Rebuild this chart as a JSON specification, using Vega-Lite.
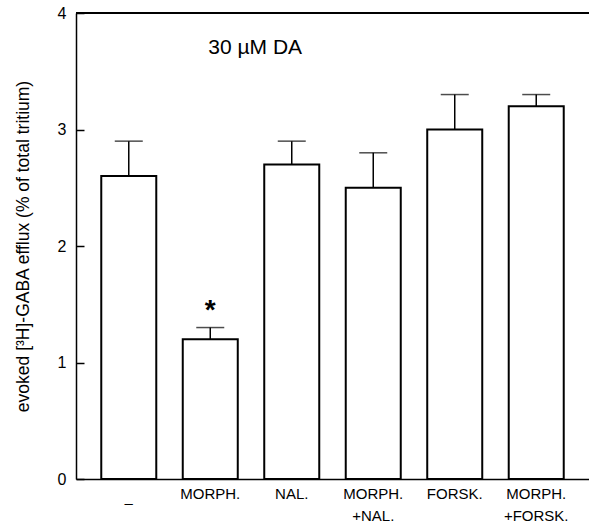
{
  "$schema": "https://vega.github.io/schema/vega-lite/v6.json",
  "autosize": "none",
  "width": 513,
  "height": 466,
  "padding": {"left": 76, "top": 13, "right": 0, "bottom": 48},
  "background": "white",
  "config": {
    "view": {"stroke": null},
    "font": "Liberation Sans",
    "axis": {"labelFont": "Liberation Sans", "titleFont": "Liberation Sans", "labelColor": "black", "titleColor": "black", "domainColor": "black", "tickColor": "black", "grid": false}
  },
  "data": {
    "values": [
      {"cond": "–", "mean": 2.6, "upper": 2.9, "sig": ""},
      {"cond": "MORPH.", "mean": 1.2, "upper": 1.3, "sig": "*"},
      {"cond": "NAL.", "mean": 2.7, "upper": 2.9, "sig": ""},
      {"cond": "MORPH.\n+NAL.", "mean": 2.5, "upper": 2.8, "sig": ""},
      {"cond": "FORSK.", "mean": 3.0, "upper": 3.3, "sig": ""},
      {"cond": "MORPH.\n+FORSK.", "mean": 3.2, "upper": 3.3, "sig": ""}
    ]
  },
  "encoding": {
    "x": {
      "field": "cond", "type": "nominal", "sort": null,
      "scale": {"paddingInner": 0.325, "paddingOuter": 0.31},
      "axis": {
        "title": null, "labelAngle": 0, "ticks": false, "domainWidth": 1.5,
        "labelFontSize": 15, "labelLineHeight": 22, "labelBaseline": "top",
        "labelPadding": {"condition": {"test": "datum.value === '–'", "value": 16}, "value": 7},
        "labelExpr": "split(datum.label, '\\n')"
      }
    }
  },
  "layer": [
    {
      "mark": {"type": "bar", "fill": "white", "stroke": "black", "strokeWidth": 2},
      "encoding": {
        "y": {
          "field": "mean", "type": "quantitative",
          "scale": {"domain": [0, 4], "nice": false},
          "axis": {
            "title": "evoked [³H]-GABA efflux (% of total tritium)",
            "values": [0, 1, 2, 3, 4], "format": "d", "tickSize": -8, "domainWidth": 1.5, "tickWidth": 1.5,
            "labelFontSize": 16, "labelPadding": 18, "titleFontSize": 17.5, "titleFontWeight": "normal",
            "titlePadding": 25
          }
        }
      }
    },
    {
      "mark": {"type": "rule", "stroke": "black", "strokeWidth": 1.5},
      "encoding": {"y": {"field": "mean", "type": "quantitative"}, "y2": {"field": "upper"}}
    },
    {
      "mark": {"type": "tick", "color": "black", "size": 28, "thickness": 1.5, "orient": "horizontal"},
      "encoding": {"y": {"field": "upper", "type": "quantitative"}}
    },
    {
      "transform": [{"filter": "datum.sig !== ''"}],
      "mark": {"type": "text", "fontSize": 28, "fontWeight": "bold", "baseline": "alphabetic", "color": "black"},
      "encoding": {"y": {"datum": 1.37}, "text": {"field": "sig"}}
    },
    {
      "mark": {"type": "rule", "stroke": "black", "strokeWidth": 1.5},
      "encoding": {"y": {"datum": 4}, "x": null}
    },
    {
      "data": {"values": [{"label": "30 µM DA", "pos": "MORPH.", "yv": 3.65}]},
      "mark": {"type": "text", "fontSize": 21, "align": "left", "baseline": "alphabetic", "dx": -2, "color": "black"},
      "encoding": {"x": {"field": "pos", "type": "nominal"}, "y": {"field": "yv", "type": "quantitative"}, "text": {"field": "label"}}
    }
  ]
}
